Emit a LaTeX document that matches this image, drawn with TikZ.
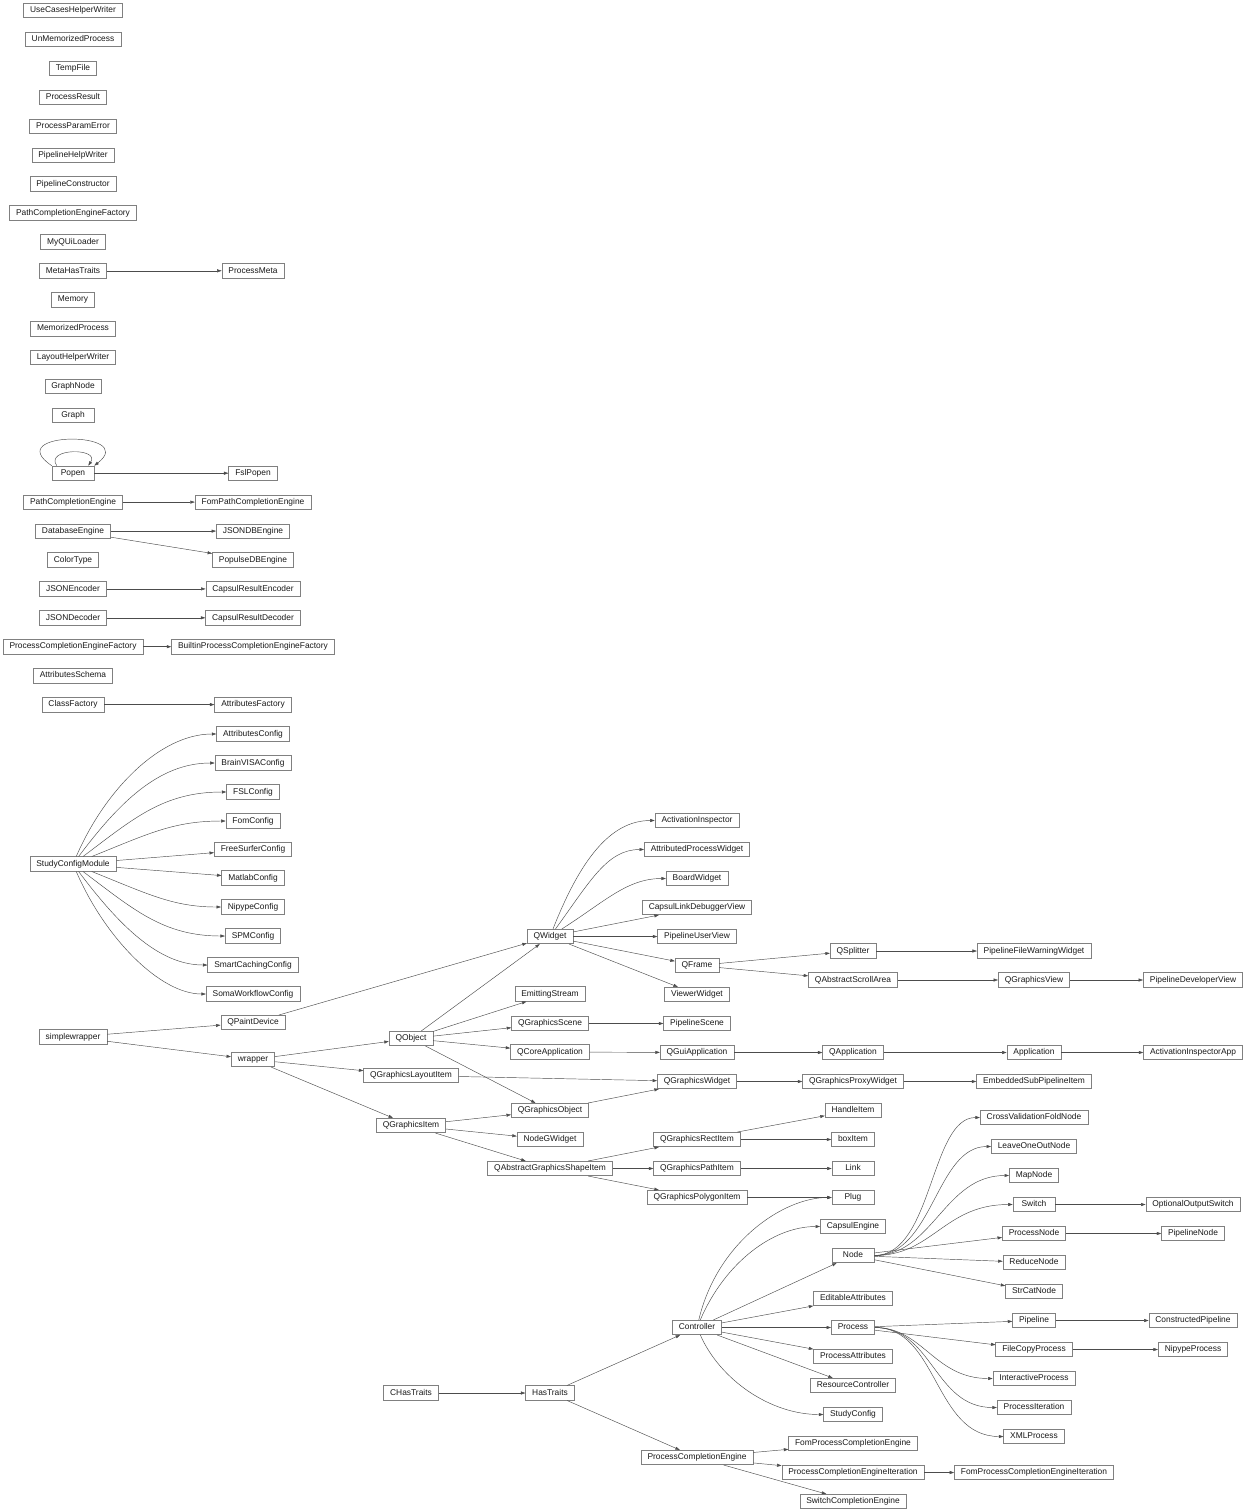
\documentclass[tikz,border=0pt]{standalone}
\usepackage{fontspec}
\setmainfont{Liberation Sans}
\usetikzlibrary{arrows.meta}
\begin{document}
\begin{tikzpicture}[x=1pt,y=-1pt,
  cls/.style={draw=black!50,line width=0.55pt,fill=white,text=black!90,font=\fontsize{8.4}{10}\selectfont,
    inner xsep=6.5pt,inner ysep=0pt,minimum height=14.5pt,minimum width=42pt,
    text height=6.1pt,text depth=1.7pt},
  inh/.style={draw=black!70,line width=0.45pt,-{Triangle[length=4.5pt,width=3pt]}}]
\useasboundingbox (0,0) rectangle (1248,1512);
% ---------- left column ----------
\node[cls] (uchw) at (73,10.5) {UseCasesHelperWriter};
\node[cls] (ump) at (73,39.4) {UnMemorizedProcess};
\node[cls] (tf) at (73,68.3) {TempFile};
\node[cls] (pr) at (73,97.3) {ProcessResult};
\node[cls] (ppe) at (73,126.2) {ProcessParamError};
\node[cls] (phw) at (73,155.1) {PipelineHelpWriter};
\node[cls] (pc) at (73,184.0) {PipelineConstructor};
\node[cls] (pcef) at (73,212.9) {PathCompletionEngineFactory};
\node[cls] (mql) at (73,241.9) {MyQUiLoader};
\node[cls] (mht) at (73,270.8) {MetaHasTraits};
\node[cls] (mem) at (73,299.7) {Memory};
\node[cls] (mp) at (73,328.6) {MemorizedProcess};
\node[cls] (lhw) at (73,357.5) {LayoutHelperWriter};
\node[cls] (gn) at (73,386.5) {GraphNode};
\node[cls] (gr) at (73,415.4) {Graph};
\node[cls] (popen) at (73,473.2) {Popen};
\node[cls] (pce) at (73,502.1) {PathCompletionEngine};
\node[cls] (dbe) at (73,531.1) {DatabaseEngine};
\node[cls] (ct) at (73,560.0) {ColorType};
\node[cls] (jenc) at (73,588.9) {JSONEncoder};
\node[cls] (jdec) at (73,617.8) {JSONDecoder};
\node[cls] (pcefac) at (73,646.7) {ProcessCompletionEngineFactory};
\node[cls] (as) at (73,675.7) {AttributesSchema};
\node[cls] (cf) at (73,704.6) {ClassFactory};
\node[cls] (scm) at (73,864) {StudyConfigModule};
\node[cls] (sw) at (73,1037) {simplewrapper};
% ---------- column 253 ----------
\node[cls] (pm) at (253,270.8) {ProcessMeta};
\node[cls] (fslp) at (253,473.2) {FslPopen};
\node[cls] (fpce) at (253,502.1) {FomPathCompletionEngine};
\node[cls] (jdb) at (253,531.1) {JSONDBEngine};
\node[cls] (pdb) at (253,560.0) {PopulseDBEngine};
\node[cls] (cre) at (253,588.9) {CapsulResultEncoder};
\node[cls] (crd) at (253,617.8) {CapsulResultDecoder};
\node[cls] (bpcef) at (253,646.7) {BuiltinProcessCompletionEngineFactory};
\node[cls] (af) at (253,704.6) {AttributesFactory};
\node[cls] (acfg) at (253,734) {AttributesConfig};
\node[cls] (bvc) at (253,763) {BrainVISAConfig};
\node[cls] (fslc) at (253,792) {FSLConfig};
\node[cls] (fomc) at (253,821) {FomConfig};
\node[cls] (fsc) at (253,849.5) {FreeSurferConfig};
\node[cls] (mc) at (253,878) {MatlabConfig};
\node[cls] (nc) at (253,907) {NipypeConfig};
\node[cls] (spm) at (253,936) {SPMConfig};
\node[cls] (scc) at (253,965) {SmartCachingConfig};
\node[cls] (swc) at (253,994) {SomaWorkflowConfig};
\node[cls] (qpd) at (253,1022.5) {QPaintDevice};
\node[cls] (wr) at (253,1059.5) {wrapper};
% ---------- column 411 ----------
\node[cls] (qo) at (411,1038.5) {QObject};
\node[cls] (qgli) at (411,1075.5) {QGraphicsLayoutItem};
\node[cls] (qgi) at (411,1125.5) {QGraphicsItem};
\node[cls] (cht) at (411,1393) {CHasTraits};
% ---------- column 550 ----------
\node[cls] (qw) at (550,936.5) {QWidget};
\node[cls] (es) at (550,994) {EmittingStream};
\node[cls] (qgs) at (550,1023.5) {QGraphicsScene};
\node[cls] (qca) at (550,1052) {QCoreApplication};
\node[cls] (qgo) at (550,1110.5) {QGraphicsObject};
\node[cls] (ngw) at (550,1139.5) {NodeGWidget};
\node[cls] (qags) at (550,1168.5) {QAbstractGraphicsShapeItem};
\node[cls] (ht) at (550,1393) {HasTraits};
% ---------- column 697 ----------
\node[cls] (ai) at (697,820.5) {ActivationInspector};
\node[cls] (apw) at (697,849.5) {AttributedProcessWidget};
\node[cls] (bw) at (697,878.5) {BoardWidget};
\node[cls] (cldv) at (697,907.5) {CapsulLinkDebuggerView};
\node[cls] (puv) at (697,936.5) {PipelineUserView};
\node[cls] (qf) at (697,965.5) {QFrame};
\node[cls] (vw) at (697,994.5) {ViewerWidget};
\node[cls] (ps) at (697,1023.5) {PipelineScene};
\node[cls] (qga) at (697,1052.5) {QGuiApplication};
\node[cls] (qgw) at (697,1081.5) {QGraphicsWidget};
\node[cls] (qgri) at (697,1139.5) {QGraphicsRectItem};
\node[cls] (qgpi) at (697,1168.5) {QGraphicsPathItem};
\node[cls] (qgpoly) at (697,1197.5) {QGraphicsPolygonItem};
\node[cls] (ctrl) at (697,1327.5) {Controller};
\node[cls] (pceng) at (697,1457.5) {ProcessCompletionEngine};
% ---------- column 853 ----------
\node[cls] (qs) at (853,951) {QSplitter};
\node[cls] (qasa) at (853,980) {QAbstractScrollArea};
\node[cls] (qa) at (853,1052.5) {QApplication};
\node[cls] (qgpw) at (853,1081.5) {QGraphicsProxyWidget};
\node[cls] (hi) at (853,1110.5) {HandleItem};
\node[cls] (bi) at (853,1139.5) {boxItem};
\node[cls] (lk) at (853,1168.5) {Link};
\node[cls] (plug) at (853,1197.5) {Plug};
\node[cls] (ce) at (853,1226.5) {CapsulEngine};
\node[cls] (node) at (853,1255.5) {Node};
\node[cls] (ea) at (853,1298.5) {EditableAttributes};
\node[cls] (proc) at (853,1327.5) {Process};
\node[cls] (pa) at (853,1356.5) {ProcessAttributes};
\node[cls] (rc) at (853,1385.5) {ResourceController};
\node[cls] (sc) at (853,1414.5) {StudyConfig};
\node[cls] (fpceng) at (853,1443.5) {FomProcessCompletionEngine};
\node[cls] (pcei) at (853,1472.5) {ProcessCompletionEngineIteration};
\node[cls] (swce) at (853,1501.5) {SwitchCompletionEngine};
% ---------- column 1034 ----------
\node[cls] (pfww) at (1034,951) {PipelineFileWarningWidget};
\node[cls] (qgv) at (1034,980) {QGraphicsView};
\node[cls] (app) at (1034,1052.5) {Application};
\node[cls] (espi) at (1034,1081.5) {EmbeddedSubPipelineItem};
\node[cls] (cvfn) at (1034,1117.5) {CrossValidationFoldNode};
\node[cls] (lon) at (1034,1146.5) {LeaveOneOutNode};
\node[cls] (mapn) at (1034,1175.5) {MapNode};
\node[cls] (swn) at (1034,1204.5) {Switch};
\node[cls] (pn) at (1034,1233.5) {ProcessNode};
\node[cls] (rn) at (1034,1262.5) {ReduceNode};
\node[cls] (scn) at (1034,1291.5) {StrCatNode};
\node[cls] (pipe) at (1034,1320.5) {Pipeline};
\node[cls] (fcp) at (1034,1349.5) {FileCopyProcess};
\node[cls] (ip) at (1034,1378.5) {InteractiveProcess};
\node[cls] (pit) at (1034,1407.5) {ProcessIteration};
\node[cls] (xmlp) at (1034,1436.5) {XMLProcess};
\node[cls] (fpcei) at (1034,1472.5) {FomProcessCompletionEngineIteration};
% ---------- column 1193 ----------
\node[cls] (pdv) at (1193,980) {PipelineDeveloperView};
\node[cls] (aiapp) at (1193,1052.5) {ActivationInspectorApp};
\node[cls] (oos) at (1193,1204.5) {OptionalOutputSwitch};
\node[cls] (pln) at (1193,1233.5) {PipelineNode};
\node[cls] (cp) at (1193,1320.5) {ConstructedPipeline};
\node[cls] (np) at (1193,1349.5) {NipypeProcess};
% ================= edges =================
\draw[inh] (mht) -- (pm);
\draw[inh] (popen.north west) .. controls +(-52,-35) and +(45,-35) .. (popen.north east);
\draw[inh] ([xshift=5pt]popen.north west) .. controls +(-12,-18) and +(12,-18) .. ([xshift=-6pt]popen.north east);
\draw[inh] (popen) -- (fslp);
\draw[inh] (pce) -- (fpce);
\draw[inh] (dbe) -- (jdb);
\draw[inh] (dbe) -- (pdb);
\draw[inh] (jenc) -- (cre);
\draw[inh] (jdec) -- (crd);
\draw[inh] (pcefac) -- (bpcef);
\draw[inh] (cf) -- (af);
% StudyConfigModule fan
\draw[inh] (scm) .. controls +(32,-74) and +(-93,0) .. (acfg);
\draw[inh] (scm) .. controls +(45,-60) and +(-95,0) .. (bvc);
\draw[inh] (scm) .. controls +(60,-45) and +(-90,0) .. (fslc);
\draw[inh] (scm) .. controls +(75,-30) and +(-80,0) .. (fomc);
\draw[inh] (scm) -- (fsc);
\draw[inh] (scm) -- (mc);
\draw[inh] (scm) .. controls +(75,30) and +(-80,0) .. (nc);
\draw[inh] (scm) .. controls +(60,45) and +(-90,0) .. (spm);
\draw[inh] (scm) .. controls +(45,60) and +(-95,0) .. (scc);
\draw[inh] (scm) .. controls +(32,74) and +(-93,0) .. (swc);
% Qt hierarchy
\draw[inh] (sw) -- (qpd);
\draw[inh] (sw) -- (wr);
\draw[inh] (qpd) -- (qw);
\draw[inh] (wr) -- (qo);
\draw[inh] (wr) -- (qgli);
\draw[inh] (wr) -- (qgi);
\draw[inh] (qo) -- (qw);
\draw[inh] (qo) -- (es);
\draw[inh] (qo) -- (qgs);
\draw[inh] (qo) -- (qca);
\draw[inh] (qo) -- (qgo);
\draw[inh] (qgli) -- (qgw);
\draw[inh] (qgi) -- (qgo);
\draw[inh] (qgi) -- (ngw);
\draw[inh] (qgi) -- (qags);
\draw[inh] (qw) .. controls +(30,-76) and +(-87,0) .. (ai);
\draw[inh] (qw) .. controls +(40,-55) and +(-90,0) .. (apw);
\draw[inh] (qw) .. controls +(55,-35) and +(-70,0) .. (bw);
\draw[inh] (qw) -- (cldv);
\draw[inh] (qw) -- (puv);
\draw[inh] (qw) -- (qf);
\draw[inh] (qw) -- (vw);
\draw[inh] (qf) -- (qs);
\draw[inh] (qf) -- (qasa);
\draw[inh] (qs) -- (pfww);
\draw[inh] (qasa) -- (qgv);
\draw[inh] (qgv) -- (pdv);
\draw[inh] (qgs) -- (ps);
\draw[inh] (qca) -- (qga);
\draw[inh] (qga) -- (qa);
\draw[inh] (qa) -- (app);
\draw[inh] (app) -- (aiapp);
\draw[inh] (qgo) -- (qgw);
\draw[inh] (qgw) -- (qgpw);
\draw[inh] (qgpw) -- (espi);
\draw[inh] (qags) -- (qgri);
\draw[inh] (qags) -- (qgpi);
\draw[inh] (qags) -- (qgpoly);
\draw[inh] (qgri) -- (hi);
\draw[inh] (qgri) -- (bi);
\draw[inh] (qgpi) -- (lk);
\draw[inh] (qgpoly) -- (plug);
% traits hierarchy
\draw[inh] (cht) -- (ht);
\draw[inh] (ht) -- (ctrl);
\draw[inh] (ht) -- (pceng);
\draw[inh] (ctrl) .. controls +(20,-85) and +(-70,0) .. (plug);
\draw[inh] (ctrl) .. controls +(28,-65) and +(-80,0) .. (ce);
\draw[inh] (ctrl) -- (node);
\draw[inh] (ctrl) -- (ea);
\draw[inh] (ctrl) -- (proc);
\draw[inh] (ctrl) -- (pa);
\draw[inh] (ctrl) -- (rc);
\draw[inh] (ctrl) .. controls +(23,52) and +(-83,0) .. (sc);
\draw[inh] (node) .. controls +(80,0) and +(-104,0) .. (cvfn);
\draw[inh] (node) .. controls +(80,0) and +(-98,0) .. (lon);
\draw[inh] (node) .. controls +(80,0) and +(-90,0) .. (mapn);
\draw[inh] (node) .. controls +(80,0) and +(-90,0) .. (swn);
\draw[inh] (node) -- (pn);
\draw[inh] (node) -- (rn);
\draw[inh] (node) -- (scn);
\draw[inh] (swn) -- (oos);
\draw[inh] (pn) -- (pln);
\draw[inh] (proc) -- (pipe);
\draw[inh] (proc) -- (fcp);
\draw[inh] (proc) .. controls +(70,0) and +(-100,0) .. (ip);
\draw[inh] (proc) .. controls +(80,0) and +(-100,0) .. (pit);
\draw[inh] (proc) .. controls +(85,0) and +(-100,0) .. (xmlp);
\draw[inh] (pipe) -- (cp);
\draw[inh] (fcp) -- (np);
\draw[inh] (pceng) -- (fpceng);
\draw[inh] (pceng) -- (pcei);
\draw[inh] (pceng) -- (swce);
\draw[inh] (pcei) -- (fpcei);
\end{tikzpicture}
\end{document}
